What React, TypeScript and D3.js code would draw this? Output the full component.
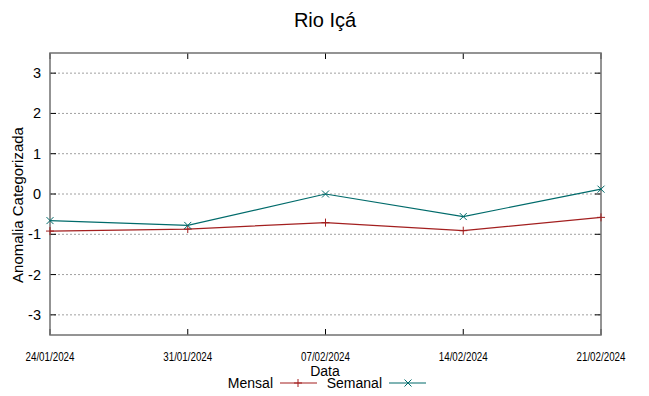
import * as d3 from "d3";
import { useRef, useEffect } from "react";

const datas = ["24/01/2024", "31/01/2024", "07/02/2024", "14/02/2024", "21/02/2024"];
const mensal = [-0.92, -0.87, -0.71, -0.91, -0.58];
const semanal = [-0.66, -0.78, 0.0, -0.56, 0.12];
const yTicks = [-3, -2, -1, 0, 1, 2, 3];

export default function App() {
  const svgRef = useRef<SVGSVGElement>(null);

  useEffect(() => {
    const svg = d3.select(svgRef.current);
    svg.selectAll("*").remove();
    const W = 649, H = 396;
    const left = 50, right = 601, top = 53, bottom = 335;
    const font = "Liberation Sans, Arial, sans-serif";

    const x = d3.scalePoint().domain(datas).range([left, right]);
    const y = d3.scaleLinear().domain([-3.5, 3.5]).range([bottom, top]);

    svg.attr("width", W).attr("height", H);
    svg.append("rect").attr("width", W).attr("height", H).attr("fill", "white");

    // grid
    svg.selectAll(".grid").data(yTicks).enter().append("line")
      .attr("x1", left).attr("x2", right)
      .attr("y1", d => y(d)).attr("y2", d => y(d))
      .attr("stroke", "#a0a0a0").attr("stroke-width", 1).attr("stroke-dasharray", "2,2");

    // ticks y (both sides, inward)
    yTicks.forEach(t => {
      svg.append("line").attr("x1", left).attr("x2", left + 6).attr("y1", y(t)).attr("y2", y(t)).attr("stroke", "black");
      svg.append("line").attr("x1", right).attr("x2", right - 6).attr("y1", y(t)).attr("y2", y(t)).attr("stroke", "black");
      svg.append("text").attr("x", 41).attr("y", y(t) + 5).attr("text-anchor", "end")
        .attr("font-family", font).attr("font-size", 14.5).text(String(t));
    });

    // ticks x
    datas.forEach(d => {
      svg.append("line").attr("x1", x(d)!).attr("x2", x(d)!).attr("y1", bottom).attr("y2", bottom - 6).attr("stroke", "black");
      svg.append("line").attr("x1", x(d)!).attr("x2", x(d)!).attr("y1", top).attr("y2", top + 6).attr("stroke", "black");
      svg.append("text").attr("x", x(d)!).attr("y", 361).attr("text-anchor", "middle")
        .attr("font-family", font).attr("font-size", 13)
        .attr("textLength", 49).attr("lengthAdjust", "spacingAndGlyphs").text(d);
    });

    // frame
    svg.append("rect").attr("x", left).attr("y", top).attr("width", right - left).attr("height", bottom - top)
      .attr("fill", "none").attr("stroke", "#707070").attr("stroke-width", 1.5);

    const line = d3.line<number>().x((_, i) => x(datas[i])!).y(d => y(d));
    const cRed = "#a31f1f", cTeal = "#006b6b";

    svg.append("path").datum(mensal).attr("d", line).attr("fill", "none").attr("stroke", cRed).attr("stroke-width", 1.2);
    svg.append("path").datum(semanal).attr("d", line).attr("fill", "none").attr("stroke", cTeal).attr("stroke-width", 1.2);

    // markers
    mensal.forEach((v, i) => {
      const px = x(datas[i])!, py = y(v);
      svg.append("path").attr("d", `M${px - 4},${py}H${px + 4}M${px},${py - 4}V${py + 4}`).attr("stroke", cRed).attr("stroke-width", 1);
    });
    semanal.forEach((v, i) => {
      const px = x(datas[i])!, py = y(v);
      svg.append("path").attr("d", `M${px - 3.5},${py - 3.5}L${px + 3.5},${py + 3.5}M${px - 3.5},${py + 3.5}L${px + 3.5},${py - 3.5}`).attr("stroke", cTeal).attr("stroke-width", 1);
    });

    // title
    svg.append("text").attr("x", 325).attr("y", 27).attr("text-anchor", "middle")
      .attr("font-family", font).attr("font-size", 20).text("Rio Içá");

    // axis labels
    svg.append("text").attr("transform", "translate(23,205) rotate(-90)").attr("text-anchor", "middle")
      .attr("font-family", font).attr("font-size", 15).text("Anomalia Categorizada");
    svg.append("text").attr("x", 325).attr("y", 376).attr("text-anchor", "middle")
      .attr("font-family", font).attr("font-size", 14).text("Data");

    // legend
    const ly = 383;
    svg.append("text").attr("x", 273).attr("y", ly + 5).attr("text-anchor", "end")
      .attr("font-family", font).attr("font-size", 14).text("Mensal");
    svg.append("line").attr("x1", 280).attr("x2", 317).attr("y1", ly).attr("y2", ly).attr("stroke", cRed).attr("stroke-width", 1.2);
    svg.append("path").attr("d", `M${294},${ly}H${302}M${298},${ly - 4}V${ly + 4}`).attr("stroke", cRed);
    svg.append("text").attr("x", 382).attr("y", ly + 5).attr("text-anchor", "end")
      .attr("font-family", font).attr("font-size", 14).text("Semanal");
    svg.append("line").attr("x1", 389).attr("x2", 426).attr("y1", ly).attr("y2", ly).attr("stroke", cTeal).attr("stroke-width", 1.2);
    svg.append("path").attr("d", `M${404.5},${ly - 3.5}L${411.5},${ly + 3.5}M${404.5},${ly + 3.5}L${411.5},${ly - 3.5}`).attr("stroke", cTeal);
  }, []);

  return (
    <div style={{ position: "absolute", left: 0, top: 0 }}>
      <svg ref={svgRef}></svg>
    </div>
  );
}
